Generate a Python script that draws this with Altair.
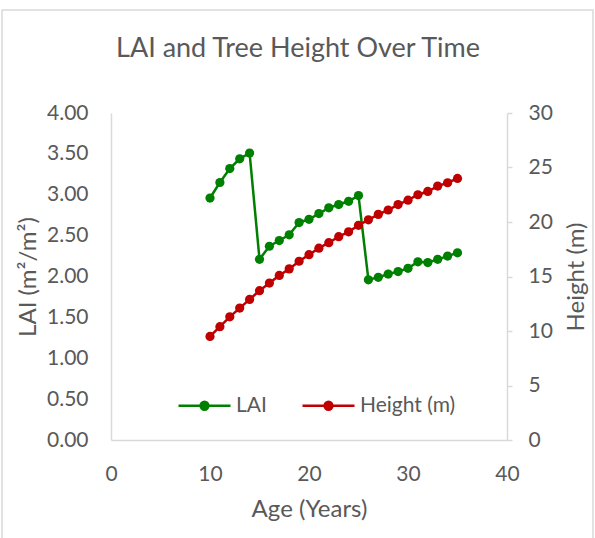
import altair as alt
import pandas as pd

ages = [10, 11, 12, 13, 14, 15, 16, 17, 18, 19, 20, 21, 22, 23, 24, 25,
        26, 27, 28, 29, 30, 31, 32, 33, 34, 35]
lai = [2.96, 3.15, 3.32, 3.44, 3.51, 2.21, 2.37, 2.44, 2.51, 2.66, 2.70, 2.77,
       2.84, 2.88, 2.92, 2.99, 1.96, 1.99, 2.03, 2.06, 2.10, 2.18, 2.17, 2.21,
       2.25, 2.29]
height = [9.5, 10.4, 11.3, 12.1, 12.9, 13.7, 14.4, 15.1, 15.7, 16.4, 17.0, 17.6,
          18.1, 18.65, 19.1, 19.7, 20.2, 20.7, 21.1, 21.6, 22.0, 22.5, 22.8, 23.3,
          23.6, 24.0]
series_names = ["LAI", "Height (m)"]
series_colors = ["#008000", "#C00000"]

df = pd.DataFrame({"Age": ages, "LAI": lai, "Height": height})

FONT = "Lato"
TXT = "#595959"
GRID = "#D9D9D9"

color = alt.Color(
    "series:N",
    scale=alt.Scale(domain=series_names, range=series_colors),
    legend=alt.Legend(
        title=None, orient="none", direction="horizontal",
        legendX=66, legendY=265,
        symbolType="M-1,0L1,0M-0.15,0A0.15,0.15,0,1,0,0.15,0A0.15,0.15,0,1,0,-0.15,0Z",
        symbolSize=2704, symbolStrokeWidth=2.5, symbolFillColor=None,
        labelFontSize=21, labelFont=FONT, labelColor=TXT, labelOffset=4,
        columnPadding=30,
    ),
)

xenc = alt.X("Age:Q", scale=alt.Scale(domain=[0, 40]),
             axis=alt.Axis(values=[0, 10, 20, 30, 40], title="Age (Years)",
                           grid=False, ticks=False, labelPadding=23,
                           labelFlush=False,
                           titlePadding=13, domainColor=GRID, domainWidth=1.5))

base = alt.Chart(df).encode(x=xenc)

lai_layer = base.transform_calculate(series="'LAI'").mark_line(
    point=alt.OverlayMarkDef(size=85, filled=True, opacity=1), strokeWidth=2.5
).encode(
    y=alt.Y("LAI:Q", scale=alt.Scale(domain=[0, 4]),
            axis=alt.Axis(values=[0, 0.5, 1, 1.5, 2, 2.5, 3, 3.5, 4], format=".2f",
                          title="LAI (m²/m²)", grid=False, ticks=False,
                          labelPadding=23, titlePadding=6, orient="left",
                          domainColor=GRID, domainWidth=1.5)),
    color=color,
)

h_layer = base.transform_calculate(series="'Height (m)'").mark_line(
    point=alt.OverlayMarkDef(size=85, filled=True, opacity=1), strokeWidth=2.5
).encode(
    y=alt.Y("Height:Q", scale=alt.Scale(domain=[0, 30]),
            axis=alt.Axis(values=[0, 5, 10, 15, 20, 25, 30], title="Height (m)",
                          grid=False, ticks=True, tickSize=5, tickColor=GRID,
                          tickWidth=1.5, labelPadding=16, titlePadding=12,
                          titleAngle=270, titleBaseline="top", orient="right",
                          domainColor=GRID, domainWidth=1.5)),
    color=color,
)

frame = alt.Chart(pd.DataFrame({"f": [0]})).mark_rect(
    fill=None, stroke=GRID, strokeWidth=1.5
).encode(x=alt.value(-109), x2=alt.value(482), y=alt.value(-103), y2=alt.value(427))

chart = alt.layer(frame, lai_layer, h_layer).resolve_scale(y="independent").properties(
    width=396, height=327,
    padding={"left": 111, "top": 113, "right": 88, "bottom": 98},
    autosize=alt.AutoSizeParams(type="none"),
    background="white",
    title=alt.Title("LAI and Tree Height Over Time", fontSize=27, font=FONT,
                    color=TXT, fontWeight="normal", anchor="middle", dx=-11,
                    offset=-54),
).configure_view(stroke=None).configure_axis(
    labelFont=FONT, titleFont=FONT, labelFontSize=21, titleFontSize=24,
    labelColor=TXT, titleColor=TXT, titleFontWeight="normal",
)

chart.save("out.html", embed_options={"renderer": "svg", "actions": False})
